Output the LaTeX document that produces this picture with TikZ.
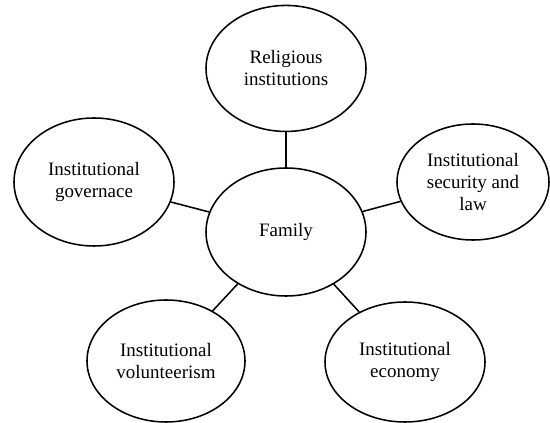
\documentclass[tikz,border=0pt]{standalone}
\usepackage{fontspec}
\setmainfont{Liberation Serif}
\usepackage{tikz}
\usetikzlibrary{
    shapes.geometric,
    positioning
}
\tikzstyle{bubble} = [
    ellipse,
    draw=black,
    line width=1.1pt,
    inner sep=0pt,
    minimum width=4cm,
    minimum height=3.2cm,
    align=center,
    font=\fontsize{13.5}{15.6}\selectfont
]
\tikzstyle{link} = [
    line width=1.1pt,
    draw=black
]

\begin{document}
\begin{tikzpicture}
        \useasboundingbox (-7.15,-4.775) rectangle (6.6,5.8);

        % Centre
        \node[bubble] (family) at (0,0) {Family};

        % Religious institutions
        \node[bubble, minimum height=3.15cm, above=0.875cm of family] (religion) {Religious\\institutions};
        \draw[link] (religion) -- (family);

        % Governance and security
        \node[bubble] (governance) at (-4.8,1.25) {Institutional\\governace};
        \node[bubble, minimum width=3.8cm, minimum height=2.9cm] (security) at (4.675,1.25) {Institutional\\security and\\law};
        \draw[link] (governance) -- (family);
        \draw[link] (security) -- (family);

        % Volunteerism and economy
        \node[bubble, minimum width=3.95cm, minimum height=3.05cm] (volunteer) at (-3.0,-3.225) {Institutional\\volunteerism};
        \node[bubble, minimum height=3cm] (economy) at (2.975,-3.25) {Institutional\\economy};
        \draw[link] (volunteer) -- (family);
        \draw[link] (economy) -- (family);
    \end{tikzpicture}
\end{document}
